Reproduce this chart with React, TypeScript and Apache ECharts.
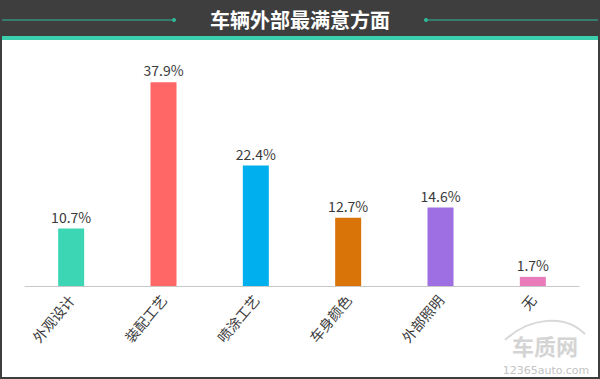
import React, { useEffect, useRef } from "react";
import * as echarts from "echarts";

const categories = ["外观设计", "装配工艺", "喷涂工艺", "车身颜色", "外部照明", "无"];
const values = [10.7, 37.9, 22.4, 12.7, 14.6, 1.7];
const barColors = ["#3dd6b4", "#ff6666", "#00b0ee", "#d97408", "#9d6fe2", "#e97bbb"];
const title = "车辆外部最满意方面";

export default function App() {
  const ref = useRef<HTMLDivElement>(null);
  useEffect(() => {
    document.body.style.margin = "0";
    const chart = echarts.init(ref.current!, null, { renderer: "svg" });
    const font = "'Noto Sans CJK SC', 'Noto Sans', sans-serif";
    chart.setOption({
      animation: false,
      backgroundColor: "#ffffff",
      grid: { left: 25, right: 21, top: 71, bottom: 93 },
      xAxis: {
        type: "category",
        data: categories,
        axisLine: { lineStyle: { color: "#c8c8c8", width: 1 } },
        axisTick: { show: false },
        axisLabel: { rotate: 50, color: "#3a3a3a", fontSize: 14, fontFamily: font, margin: 11 },
      },
      yAxis: { type: "value", min: 0, max: 40, show: false, splitLine: { show: false } },
      series: [
        {
          type: "bar",
          barWidth: 26,
          data: values.map((v, i) => ({ value: v, itemStyle: { color: barColors[i] } })),
          label: {
            show: true,
            position: "top",
            distance: 5,
            formatter: (p: any) => p.value.toFixed(1) + "%",
            color: "#3a3a3a",
            fontSize: 14,
            fontFamily: font,
          },
        },
      ],
      graphic: [
        { type: "rect", left: 0, top: 0, shape: { width: 600, height: 37 }, style: { fill: "#3e3e3e" }, z: 10 },
        { type: "rect", left: 0, top: 36, shape: { width: 600, height: 4 }, style: { fill: "#3ccfae" }, z: 11 },
        { type: "line", shape: { x1: 0, y1: 20, x2: 174, y2: 20 }, style: { stroke: "#2fb897", lineWidth: 1.2 }, z: 12 },
        { type: "circle", shape: { cx: 174, cy: 20, r: 2 }, style: { fill: "#2fb897" }, z: 12 },
        { type: "line", shape: { x1: 426, y1: 20, x2: 600, y2: 20 }, style: { stroke: "#2fb897", lineWidth: 1.2 }, z: 12 },
        { type: "circle", shape: { cx: 426, cy: 20, r: 2 }, style: { fill: "#2fb897" }, z: 12 },
        {
          type: "text",
          x: 300,
          y: 19,
          style: {
            text: title,
            fill: "#ffffff",
            font: "bold 20px " + font,
            textAlign: "center",
            textVerticalAlign: "middle",
          },
          z: 13,
        },
        { type: "rect", left: 0, top: 0, shape: { width: 2, height: 379 }, style: { fill: "#3e3e3e" }, z: 14 },
        { type: "rect", left: 598, top: 0, shape: { width: 2, height: 379 }, style: { fill: "#3e3e3e" }, z: 14 },
        { type: "rect", left: 0, top: 377, shape: { width: 600, height: 2 }, style: { fill: "#3e3e3e" }, z: 14 },
        {
          type: "bezierCurve",
          shape: { x1: 505, y1: 340, x2: 585, y2: 334, cpx1: 530, cpy1: 317, cpx2: 565, cpy2: 314 },
          style: { stroke: "#d8d8d8", lineWidth: 2, fill: null },
          z: 5,
        },
        {
          type: "text",
          x: 545,
          y: 345,
          style: {
            text: "车质网",
            fill: "#d4d4d4",
            font: "bold 22px " + font,
            lineHeight: 22,
            textAlign: "center",
            textVerticalAlign: "middle",
          },
          z: 5,
        },
        {
          type: "text",
          x: 546,
          y: 370,
          style: {
            text: "12365auto.com",
            fill: "#c4c4c4",
            font: "11px 'DejaVu Sans', sans-serif",
            lineHeight: 12,
            textAlign: "center",
            textVerticalAlign: "middle",
          },
          z: 5,
        },
      ],
    });
    return () => chart.dispose();
  }, []);
  return <div ref={ref} style={{ position: "absolute", left: 0, top: 0, width: 600, height: 379 }} />;
}
